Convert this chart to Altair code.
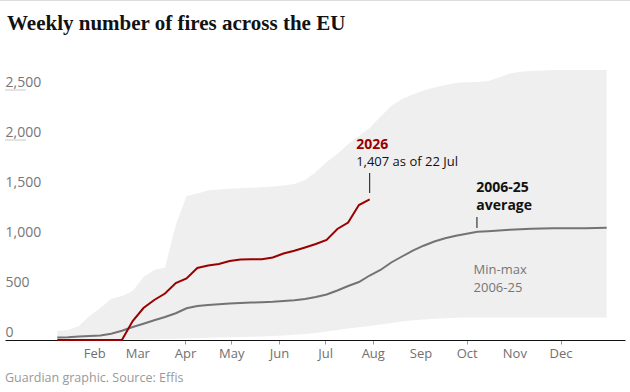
import altair as alt
import pandas as pd

# ---------------- data ----------------
weeks = list(range(1, 53))
week_day = [7 * w + 1 for w in weeks]  # day of year at which each week is plotted

avg_2006_25 = [25, 28, 34, 40, 46, 62, 93, 130, 163, 198,
               230, 268, 317, 340, 350, 358, 365, 370, 374, 378,
               382, 390, 398, 410, 430, 455, 495, 540, 580, 645,
               700, 775, 835, 893, 943, 985, 1017, 1043, 1063, 1083,
               1088, 1095, 1103, 1108, 1112, 1115, 1117, 1117, 1118, 1118,
               1120, 1123]

min_2006_25 = [0, 0, 0, 0, 2, 3, 4, 5, 6, 8,
               10, 12, 15, 18, 22, 25, 28, 30, 32, 35,
               40, 45, 52, 60, 70, 85, 100, 115, 128, 140,
               155, 170, 185, 197, 205, 212, 218, 222, 225, 225,
               225, 225, 225, 225, 225, 225, 225, 225, 225, 225,
               225, 225]

max_2006_25 = [90, 100, 140, 240, 320, 410, 440, 490, 630, 700,
               722, 1150, 1440, 1465, 1495, 1505, 1512, 1518, 1522, 1527,
               1535, 1545, 1560, 1600, 1680, 1780, 1860, 1960, 2040, 2120,
               2233, 2340, 2410, 2455, 2495, 2525, 2550, 2570, 2578, 2580,
               2590, 2625, 2665, 2682, 2690, 2695, 2700, 2700, 2700, 2700,
               2700, 2700]

fires_2026 = [0, 0, 0, 0, 0, 0, 0, 190, 320, 400,
              465, 570, 615, 720, 745, 760, 790, 805, 807, 808,
              825, 865, 892, 925, 960, 1000, 1110, 1175, 1350, 1407]

month_start_days = [32, 60, 91, 121, 152, 182, 213, 244, 274, 305, 335]
y_tick_values = [0, 500, 1000, 1500, 2000, 2500]
grid_stub_values = [2000, 2500]

# annotation texts
ann_2026_title = ["2026"]
ann_2026_sub = ["1,407 as of 22 Jul"]
ann_avg = ["2006-25", "average"]
ann_band = ["Min-max", "2006-25"]
source_text = "Guardian graphic. Source: Effis"
title_text = "Weekly number of fires across the EU"

# annotation anchor positions (day of year, value)
pos_2026_title = (202.2, 1950)
pos_2026_sub = (202.2, 1780)
pos_avg = [(280.3, 1520), (280.3, 1340)]
pos_band = [(278.5, 700), (278.5, 520)]
pointers = [(211, 1470, 1670), (280.7, 1120, 1230)]

# ---------------- tables ----------------
df = pd.DataFrame({"day": week_day, "avg": avg_2006_25,
                   "lo": min_2006_25, "hi": max_2006_25})
df26 = pd.DataFrame({"day": week_day[:len(fires_2026)], "fires": fires_2026})

SANS = "Open Sans"

x_scale = alt.Scale(domain=[-25.97, 376.9], nice=False, zero=False)
y_scale = alt.Scale(domain=[0, 2800], nice=False, zero=True)

x_axis = alt.Axis(
    values=month_start_days,
    labelExpr="timeFormat(datetime(2026, 0, datum.value), '%b')",
    title=None, grid=False,
    domainColor="#121212", domainWidth=1,
    tickColor="#999999", tickSize=4,
    tickOpacity={"condition": {"test": "indexof([32, 60, 244, 305], datum.value) >= 0",
                               "value": 0}, "value": 1},
    labelColor="#707070", labelFont=SANS, labelFontSize=13,
    labelOverlap=False, labelFlush=False, labelPadding=3,
)
y_axis = alt.Axis(
    values=y_tick_values, labelExpr="format(datum.value, ',')",
    title=None, grid=False,
    domain=False, ticks=False, tickSize=0,
    labelAlign="left", labelPadding=0, labelBaseline="alphabetic",
    labelOffset=-4, labelColor="#767676", labelFont=SANS, labelFontSize=14,
)


def X(field):
    return alt.X(f"{field}:Q", scale=x_scale, axis=x_axis)


def Y(field):
    return alt.Y(f"{field}:Q", scale=y_scale, axis=y_axis)


band = alt.Chart(df).mark_area(color="#efefef", opacity=1).encode(
    x=X("day"), y=Y("hi"), y2="lo:Q")

stubs = alt.Chart(pd.DataFrame({"v": grid_stub_values})).mark_rule(
    color="#c8c8c8", strokeWidth=1).encode(
    x=alt.value(0), x2=alt.value(21), y=Y("v"))

avg_line = alt.Chart(df).mark_line(color="#737373", strokeWidth=2).encode(
    x=X("day"), y=Y("avg"))

line26 = alt.Chart(df26).mark_line(color="#990000", strokeWidth=2).encode(
    x=X("day"), y=Y("fires"))

ptr_df = pd.DataFrame({"day": [p[0] for p in pointers],
                       "y1": [p[1] for p in pointers],
                       "y2": [p[2] for p in pointers]})
ptr = alt.Chart(ptr_df).mark_rule(color="#121212", strokeWidth=1).encode(
    x=X("day"), y=Y("y1"), y2="y2:Q")

t26 = alt.Chart(pd.DataFrame({"t": ann_2026_title, "day": [pos_2026_title[0]],
                              "v": [pos_2026_title[1]]})).mark_text(
    align="left", baseline="middle", font=SANS, fontSize=14, fontWeight="bold",
    color="#990000").encode(x=X("day"), y=Y("v"), text="t:N")

t26s = alt.Chart(pd.DataFrame({"t": ann_2026_sub, "day": [pos_2026_sub[0]],
                               "v": [pos_2026_sub[1]]})).mark_text(
    align="left", baseline="middle", font=SANS, fontSize=13,
    color="#121212").encode(x=X("day"), y=Y("v"), text="t:N")

tavg = alt.Chart(pd.DataFrame({"t": ann_avg, "day": [p[0] for p in pos_avg],
                               "v": [p[1] for p in pos_avg]})).mark_text(
    align="left", baseline="middle", font=SANS, fontSize=14, fontWeight="bold",
    color="#121212").encode(x=X("day"), y=Y("v"), text="t:N")

tband = alt.Chart(pd.DataFrame({"t": ann_band, "day": [p[0] for p in pos_band],
                                "v": [p[1] for p in pos_band]})).mark_text(
    align="left", baseline="middle", font=SANS, fontSize=13,
    color="#767676").encode(x=X("day"), y=Y("v"), text="t:N")

src = alt.Chart(pd.DataFrame({"t": [source_text]})).mark_text(
    align="left", baseline="middle", font=SANS, fontSize=12.5,
    color="#999999").encode(x=alt.value(0), y=alt.value(318), text="t:N")

topline = alt.Chart(pd.DataFrame({"a": [0]})).mark_rule(
    color="#dcdcdc", strokeWidth=1).encode(
    x=alt.value(-5), x2=alt.value(625), y=alt.value(-59.5))

chart = alt.layer(
    band, stubs, avg_line, line26, ptr, t26, t26s, tavg, tband, src, topline
).properties(
    width=620, height=280,
    padding={"left": 5, "right": 5, "top": 60, "bottom": 52},
    autosize=alt.AutoSizeParams(type="none"),
    background="white",
    title=alt.TitleParams(
        text=title_text, anchor="start", frame="group",
        font="Liberation Serif", fontSize=21, fontWeight="bold",
        color="#121212", offset=0, baseline="alphabetic", dx=2, dy=51),
).configure_view(stroke=None)

chart.save("out.html", embed_options={"renderer": "svg", "actions": False})
